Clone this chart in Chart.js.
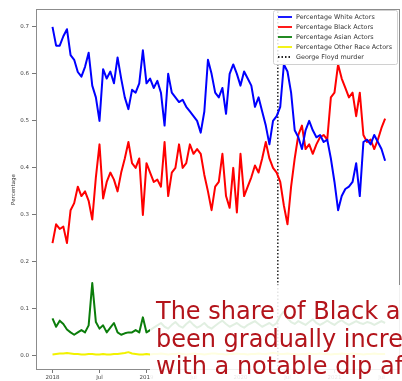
<!DOCTYPE html>
<html lang="en">
  <head>
    <meta charset="UTF-8" />
    <title>Share of actors by race</title>
    <script src="https://cdn.jsdelivr.net/npm/chart.js@4.4.1/dist/chart.umd.min.js"></script>
    <style>
      body { margin: 0; background: #fff; overflow: hidden; }
      #wrap { position: relative; width: 402px; height: 381px; }
      #note {
        position: absolute; left: 150px; top: 285px; width: 246px; height: 96px;
        padding: 13px 0 0 6px; box-sizing: content-box;
        background: rgba(255, 255, 255, 0.88);
        font-family: 'DejaVu Sans', Verdana, sans-serif; font-size: 24px; line-height: 27.5px;
        color: #b3141b; white-space: nowrap; overflow: hidden;
      }
    </style>
  </head>
  <body>
    <div id="wrap">
      <canvas id="myChart" width="402" height="381"></canvas>
      <div id="note">The share of Black a<br>been gradually incre<br>with a notable dip af</div>
    </div>

    <script>
      // values, one point every two weeks from Jan 2018
      const whiteShare = [
        0.70, 0.66, 0.66, 0.68, 0.695, 0.64, 0.63, 0.604, 0.594, 0.615,
        0.645, 0.575, 0.55, 0.50, 0.61, 0.59, 0.605, 0.58, 0.635, 0.59,
        0.55, 0.525, 0.566, 0.56, 0.58, 0.65, 0.58, 0.59, 0.57, 0.585,
        0.56, 0.49, 0.60, 0.56, 0.55, 0.54, 0.545, 0.53, 0.52, 0.51,
        0.50, 0.475, 0.52, 0.63, 0.60, 0.56, 0.55, 0.57, 0.515, 0.60,
        0.62, 0.60, 0.575, 0.605, 0.59, 0.575, 0.53, 0.55, 0.52, 0.49,
        0.45, 0.50, 0.51, 0.53, 0.62, 0.605, 0.56, 0.48, 0.465, 0.44,
        0.48, 0.50, 0.48, 0.465, 0.47, 0.455, 0.46, 0.42, 0.37, 0.31,
        0.34, 0.355, 0.36, 0.37, 0.41, 0.34, 0.455, 0.46, 0.45, 0.47,
        0.455, 0.44, 0.415
      ];
      const blackShare = [
        0.24, 0.28, 0.27, 0.275, 0.24, 0.31, 0.325, 0.36, 0.34, 0.35,
        0.33, 0.29, 0.38, 0.45, 0.335, 0.37, 0.39, 0.375, 0.35, 0.39,
        0.42, 0.455, 0.41, 0.40, 0.42, 0.30, 0.41, 0.39, 0.37, 0.375,
        0.36, 0.455, 0.34, 0.39, 0.40, 0.45, 0.40, 0.41, 0.45, 0.43,
        0.44, 0.43, 0.385, 0.35, 0.31, 0.36, 0.37, 0.43, 0.34, 0.315,
        0.40, 0.305, 0.43, 0.34, 0.36, 0.38, 0.405, 0.39, 0.42, 0.455,
        0.42, 0.40, 0.39, 0.37, 0.32, 0.28, 0.36, 0.42, 0.47, 0.49,
        0.44, 0.45, 0.43, 0.45, 0.465, 0.47, 0.46, 0.55, 0.56, 0.62,
        0.59, 0.57, 0.55, 0.56, 0.51, 0.56, 0.47, 0.455, 0.46, 0.44,
        0.46, 0.485, 0.505
      ];
      const asianShare = [
        0.08, 0.062, 0.075, 0.068, 0.056, 0.05, 0.045, 0.05, 0.055, 0.05,
        0.065, 0.155, 0.072, 0.058, 0.065, 0.05, 0.06, 0.07, 0.05, 0.045,
        0.048, 0.05, 0.05, 0.055, 0.05, 0.082, 0.05, 0.055, 0.06, 0.065,
        0.07, 0.062, 0.058, 0.066, 0.072, 0.064, 0.06, 0.068, 0.074, 0.066,
        0.06, 0.064, 0.07, 0.062, 0.058, 0.064, 0.07, 0.075, 0.068, 0.062,
        0.066, 0.07, 0.064, 0.06, 0.066, 0.07, 0.074, 0.068, 0.062, 0.066,
        0.07, 0.064, 0.07, 0.085, 0.095, 0.08, 0.072, 0.068, 0.074, 0.07,
        0.066, 0.072, 0.078, 0.07, 0.066, 0.07, 0.075, 0.07, 0.066, 0.072,
        0.076, 0.07, 0.066, 0.07, 0.074, 0.07, 0.068, 0.072, 0.07, 0.066,
        0.07, 0.074, 0.07
      ];
      const otherShare = [
        0.003, 0.004, 0.005, 0.005, 0.006, 0.005, 0.004, 0.004, 0.003, 0.003,
        0.004, 0.004, 0.003, 0.003, 0.004, 0.003, 0.003, 0.004, 0.004, 0.005,
        0.006, 0.008, 0.005, 0.004, 0.003, 0.003, 0.004, 0.003, 0.004, 0.004,
        0.005, 0.004, 0.003, 0.004, 0.004, 0.005, 0.004, 0.003, 0.004, 0.005,
        0.004, 0.004, 0.003, 0.004, 0.005, 0.005, 0.004, 0.004, 0.003, 0.004,
        0.004, 0.005, 0.004, 0.004, 0.003, 0.004, 0.004, 0.005, 0.004, 0.004,
        0.005, 0.006, 0.005, 0.004, 0.004, 0.005, 0.004, 0.004, 0.003, 0.004,
        0.004, 0.005, 0.004, 0.004, 0.005, 0.004, 0.004, 0.003, 0.004, 0.004,
        0.005, 0.004, 0.004, 0.005, 0.004, 0.004, 0.003, 0.004, 0.004, 0.005,
        0.004, 0.004, 0.004
      ];
      // years since 1 Jan 2018
      const floydYear = 2.397;
      const xTickValues = [0, 0.5, 1, 1.5, 2, 2.5, 3, 3.5];
      const xTickLabels = ['2018', 'Jul', '2019', 'Jul', '2020', 'Jul', '2021', 'Jul'];
      const yTickValues = [0, 0.1, 0.2, 0.3, 0.4, 0.5, 0.6, 0.7];
      const yTickLabels = ['0.0', '0.1', '0.2', '0.3', '0.4', '0.5', '0.6', '0.7'];
      const yMin = -0.03, yMax = 0.738;

      const toPoints = vals => vals.map((v, i) => ({ x: i / 26, y: v }));

      const frameAndLegend = {
        id: 'frameAndLegend',
        afterDatasetsDraw(chart) {
          const { ctx, chartArea: a } = chart;
          ctx.save();
          ctx.strokeStyle = '#8c8c8c';
          ctx.lineWidth = 1;
          ctx.strokeRect(a.left + 0.5, a.top + 0.5, a.width - 1, a.height - 1);

          // legend in the top right corner, like matplotlib's
          const bx = 273, by = 10, bw = 124, bh = 54;
          ctx.fillStyle = 'rgba(255,255,255,0.85)';
          ctx.strokeStyle = '#d0d0d0';
          ctx.beginPath();
          ctx.roundRect(bx + 0.5, by + 0.5, bw, bh, 2);
          ctx.fill();
          ctx.stroke();
          ctx.font = '6.4px "DejaVu Sans"';
          ctx.textBaseline = 'middle';
          chart.data.datasets.forEach((ds, k) => {
            const y = by + 7 + k * 10;
            ctx.strokeStyle = ds.borderColor;
            ctx.lineWidth = 1.8;
            ctx.setLineDash(ds.borderDash || []);
            ctx.beginPath();
            ctx.moveTo(278, y);
            ctx.lineTo(292, y);
            ctx.stroke();
            ctx.setLineDash([]);
            ctx.fillStyle = '#333';
            ctx.fillText(ds.label, 296, y);
          });
          ctx.restore();
        }
      };

      const ctx = document.getElementById('myChart').getContext('2d');
      const lineStyle = { pointRadius: 0, borderWidth: 2, fill: false, tension: 0, borderJoinStyle: 'round' };
      const myChart = new Chart(ctx, {
        type: 'line',
        data: {
          datasets: [
            { label: 'Percentage White Actors', data: toPoints(whiteShare), borderColor: '#0000ff', ...lineStyle },
            { label: 'Percentage Black Actors', data: toPoints(blackShare), borderColor: '#ff0000', ...lineStyle },
            { label: 'Percentage Asian Actors', data: toPoints(asianShare), borderColor: '#0b7d0b', ...lineStyle },
            { label: 'Percentage Other Race Actors', data: toPoints(otherShare), borderColor: '#f2f200', ...lineStyle },
            {
              label: 'George Floyd murder',
              data: [{ x: floydYear, y: yMin }, { x: floydYear, y: yMax }],
              borderColor: '#222', borderDash: [1.5, 2], borderWidth: 1.5, pointRadius: 0
            }
          ]
        },
        options: {
          responsive: false,
          animation: false,
          devicePixelRatio: 1,
          layout: { padding: { top: 9, right: 2, left: 0, bottom: 0 } },
          plugins: { legend: { display: false }, tooltip: { enabled: false } },
          scales: {
            x: {
              type: 'linear',
              min: -0.1755,
              max: 3.697,
              afterFit: s => { s.height = 11; },
              afterBuildTicks: s => { s.ticks = xTickValues.map(v => ({ value: v })); },
              ticks: {
                callback: (v, i) => xTickLabels[i],
                font: { family: 'DejaVu Sans', size: 5.5 },
                color: '#444',
                padding: 1,
                maxRotation: 0,
                autoSkip: false
              },
              grid: { drawOnChartArea: false, drawTicks: true, tickLength: 3, color: '#777' },
              border: { display: false }
            },
            y: {
              min: yMin,
              max: yMax,
              afterFit: s => { s.width = 36; },
              afterBuildTicks: s => { s.ticks = yTickValues.map(v => ({ value: v })); },
              ticks: {
                callback: (v, i) => yTickLabels[i],
                font: { family: 'DejaVu Sans', size: 5.5 },
                color: '#444',
                padding: 3
              },
              grid: { drawOnChartArea: false, drawTicks: true, tickLength: 4, color: '#777' },
              border: { display: false },
              title: {
                display: true,
                text: 'Percentage',
                font: { family: 'DejaVu Sans', size: 5.5 },
                color: '#333',
                padding: { top: 10, bottom: 0 }
              }
            }
          }
        },
        plugins: [frameAndLegend]
      });
    </script>
  </body>
</html>
